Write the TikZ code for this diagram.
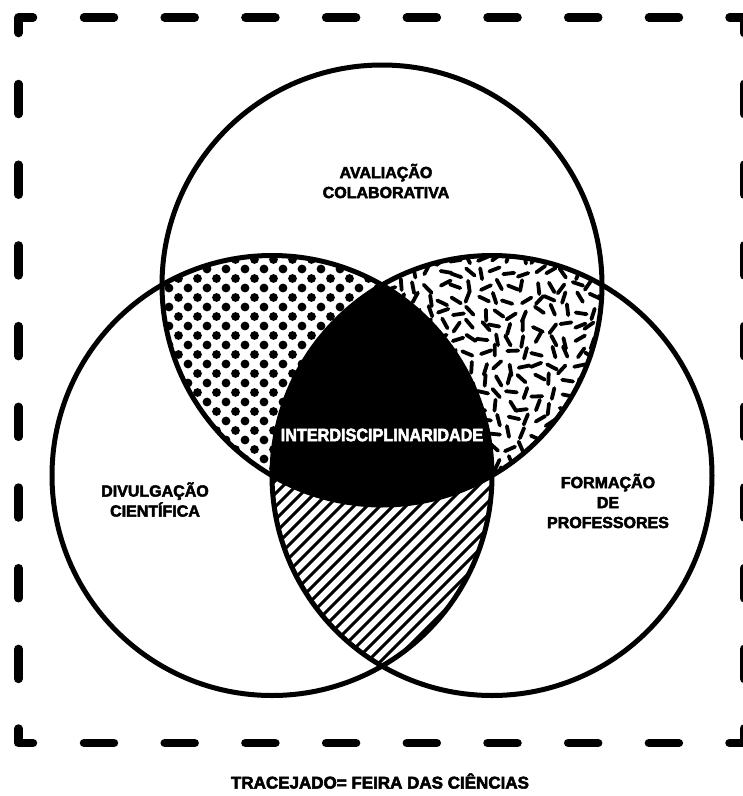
\documentclass[tikz,border=0pt]{standalone}
\usepackage{fontspec}
\newfontfamily\lbl{Liberation Sans}[UprightFont={* Bold},UprightFeatures={FakeBold=3}]
\newfontfamily\lblc{Liberation Sans}[UprightFont={* Bold},UprightFeatures={FakeBold=3,FakeStretch=0.9}]
\begin{document}
\begin{tikzpicture}[x=1pt,y=-1pt,
  ring/.style={line width=5pt},
  brd/.style={line width=8.5pt,line cap=round,line join=round},
  lab/.style={font=\lbl\fontsize{16}{20}\selectfont,align=center,inner sep=0pt},
]
\useasboundingbox (0,0) rectangle (743,796);
\fill[white] (0,0) rectangle (743,796);
\coordinate (T) at (382,285);
\coordinate (L) at (272,475.5);
\coordinate (R) at (492,475.5);
% dashed frame
\draw[brd] (18.5,33) -- (18.5,17.5) -- (33,17.5);
\draw[brd] (729.5,17.5) -- (744,17.5) -- (744,33);
\draw[brd] (18.5,728.5) -- (18.5,743) -- (33,743);
\draw[brd] (729.5,743) -- (744,743) -- (744,728.5);
\foreach \k in {0,...,7} {
  \pgfmathsetmacro\cc{99+80.7*\k}
  \draw[brd] (\cc-15,17.5) -- (\cc+15,17.5);
  \draw[brd] (\cc-15,743) -- (\cc+15,743);
  \draw[brd] (18.5,\cc-15) -- (18.5,\cc+15);
  \draw[brd] (744,\cc-15) -- (744,\cc+15);
}
% dots: top & left
\begin{scope}
\clip (T) circle[radius=220];
\clip (L) circle[radius=220];
\foreach \i in {0,...,13} \foreach \j in {0,...,25} {
  \pgfmathsetmacro\xx{150+\i*19+mod(\j,2)*9.5}
  \pgfmathsetmacro\yy{250+\j*9.5}
  \fill (\xx,\yy) circle[radius=4.4];
}
\end{scope}
% confetti: top & right
\begin{scope}
\clip (T) circle[radius=220];
\clip (R) circle[radius=220];
\pgfmathsetseed{7}
\foreach \i in {0,...,17} \foreach \j in {0,...,18} {
  \pgfmathsetmacro\xx{372+\i*13.5+rnd*7}
  \pgfmathsetmacro\yy{242+\j*13.5+rnd*7}
  \pgfmathsetmacro\aa{rnd*180}
  \pgfmathsetmacro\ddx{5.5*cos(\aa)}
  \pgfmathsetmacro\ddy{5.5*sin(\aa)}
  \draw[line width=3.8pt,line cap=round] (\xx-\ddx,\yy-\ddy) -- (\xx+\ddx,\yy+\ddy);
}
\end{scope}
% hatch: left & right
\begin{scope}
\clip (L) circle[radius=220];
\clip (R) circle[radius=220];
\foreach \c in {600,613,...,1130} \draw[line width=3pt] (\c-250,250) -- (\c-720,720);
\end{scope}
% centre
\begin{scope}
\clip (T) circle[radius=220];
\clip (L) circle[radius=220];
\fill (R) circle[radius=220];
\end{scope}
% rings
\draw[ring] (T) circle[radius=220];
\draw[ring] (L) circle[radius=220];
\draw[ring] (R) circle[radius=220];
% labels
\node[lab] (aval) at (386,181) {AVALIAÇÃO\\COLABORATIVA};
\node[lab] (divu) at (155,499.5) {DIVULGAÇÃO\\CIENTÍFICA};
\node[lab] (form) at (608,501) {FORMAÇÃO\\DE\\PROFESSORES};
\node[lab,text=white,font=\lblc\fontsize{18}{20}\selectfont] (inter) at (382,435) {INTERDISCIPLINARIDADE};
\node[lab,font=\lbl\fontsize{17}{20}\selectfont] (leg) at (380,781) {TRACEJADO= FEIRA DAS CIÊNCIAS};
\end{tikzpicture}
\end{document}
